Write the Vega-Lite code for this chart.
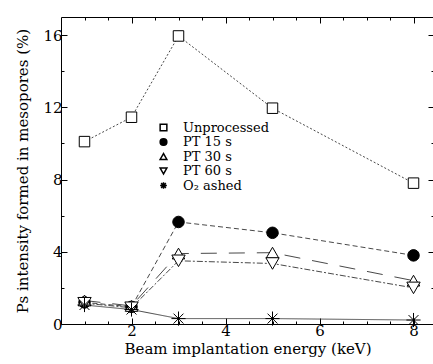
{
  "$schema": "https://vega.github.io/schema/vega-lite/v6.json",
  "width": 373,
  "height": 307,
  "autosize": "none",
  "padding": {"left": 61, "top": 17, "right": 0, "bottom": 40},
  "background": "white",
  "config": {
    "view": {"stroke": null},
    "font": "DejaVu Serif",
    "axis": {
      "labelFont": "DejaVu Serif", "labelFontSize": 15, "labelColor": "black",
      "titleFont": "DejaVu Serif", "titleFontSize": 15, "titleFontWeight": "normal", "titleColor": "black",
      "domainColor": "black", "tickColor": "black", "grid": false, "domainWidth": 1, "tickWidth": 1
    },
    "legend": {"labelFont": "DejaVu Serif", "labelFontSize": 13, "labelColor": "black"}
  },
  "data": {"values": [
    {"e": 1, "v": 10.1, "s": "Unprocessed"},
    {"e": 2, "v": 11.45, "s": "Unprocessed"},
    {"e": 3, "v": 15.95, "s": "Unprocessed"},
    {"e": 5, "v": 11.95, "s": "Unprocessed"},
    {"e": 8, "v": 7.8, "s": "Unprocessed"},
    {"e": 1, "v": 1.2, "s": "PT 15 s"},
    {"e": 2, "v": 0.95, "s": "PT 15 s"},
    {"e": 3, "v": 5.65, "s": "PT 15 s"},
    {"e": 5, "v": 5.05, "s": "PT 15 s"},
    {"e": 8, "v": 3.8, "s": "PT 15 s"},
    {"e": 1, "v": 1.3, "s": "PT 30 s"},
    {"e": 2, "v": 1.0, "s": "PT 30 s"},
    {"e": 3, "v": 3.9, "s": "PT 30 s"},
    {"e": 5, "v": 3.95, "s": "PT 30 s"},
    {"e": 8, "v": 2.4, "s": "PT 30 s"},
    {"e": 1, "v": 1.15, "s": "PT 60 s"},
    {"e": 2, "v": 0.9, "s": "PT 60 s"},
    {"e": 3, "v": 3.5, "s": "PT 60 s"},
    {"e": 5, "v": 3.35, "s": "PT 60 s"},
    {"e": 8, "v": 2.0, "s": "PT 60 s"},
    {"e": 1, "v": 1.05, "s": "O₂ ashed"},
    {"e": 2, "v": 0.8, "s": "O₂ ashed"},
    {"e": 3, "v": 0.3, "s": "O₂ ashed"},
    {"e": 5, "v": 0.3, "s": "O₂ ashed"},
    {"e": 8, "v": 0.22, "s": "O₂ ashed"}
  ]},
  "layer": [
    {
      "mark": {"type": "line", "stroke": "#333333", "strokeWidth": 0.9},
      "encoding": {
        "x": {"field": "e", "type": "quantitative", "scale": {"domain": [0.5, 8.436], "nice": false, "zero": false},
              "axis": {"orient": "bottom", "values": [2, 4, 6, 8], "tickSize": -6, "labelPadding": 5, "title": "Beam implantation energy (keV)", "titlePadding": 3, "format": "d",
                       "labelFont": "DejaVu Serif", "titleFont": "DejaVu Serif", "labelFontSize": 15, "titleFontSize": 15}},
        "y": {"field": "v", "type": "quantitative", "scale": {"domain": [0, 17], "nice": false, "zero": true},
              "axis": {"orient": "left", "values": [0, 4, 8, 12, 16], "tickSize": -6, "labelPadding": 5, "title": "Ps intensity formed in mesopores (%)", "titlePadding": 12, "format": "d",
                       "labelFont": "DejaVu Serif", "titleFont": "DejaVu Serif", "labelFontSize": 15, "titleFontSize": 15}},
        "strokeDash": {"field": "s", "type": "nominal", "legend": null,
          "scale": {"domain": ["O₂ ashed", "PT 60 s", "PT 30 s", "PT 15 s", "Unprocessed"],
                    "range": [[1, 0], [6, 2, 2, 2], [16, 12], [5, 3], [2, 2]]}}
      }
    },
    {
      "mark": {"type": "point", "filled": true, "stroke": "black", "strokeWidth": 1, "opacity": 1},
      "encoding": {
        "x": {"field": "e", "type": "quantitative", "axis": {"orient": "bottom", "values": [1, 1.5, 2.5, 3, 3.5, 4.5, 5, 5.5, 6.5, 7, 7.5], "tickSize": -3, "labels": false, "domain": false, "title": null}},
        "y": {"field": "v", "type": "quantitative", "axis": {"orient": "left", "values": [2, 6, 10, 14], "tickSize": -3, "labels": false, "domain": false, "title": null}},
        "shape": {"field": "s", "type": "nominal",
          "scale": {"domain": ["Unprocessed", "PT 15 s", "PT 30 s", "PT 60 s", "O₂ ashed"],
                    "range": ["square", "circle", "triangle-up", "triangle-down", "M0,-1L0,1M-1,0L1,0M-0.7,-0.7L0.7,0.7M-0.7,0.7L0.7,-0.7"]},
          "legend": {"title": null, "orient": "none", "legendX": 96, "legendY": 104, "symbolSize": 45, "labelOffset": 13, "rowPadding": 0.5, "padding": 0,
                     "labelFont": "DejaVu Serif", "labelFontSize": 13,
                     "encode": {"symbols": {"update": {"stroke": {"value": "black"}, "strokeWidth": {"value": 1}}}}}},
        "fill": {"field": "s", "type": "nominal",
          "scale": {"domain": ["Unprocessed", "PT 15 s", "PT 30 s", "PT 60 s", "O₂ ashed"],
                    "range": ["white", "black", "white", "white", "white"]},
          "legend": {"title": null, "orient": "none", "legendX": 96, "legendY": 104, "symbolSize": 45, "labelOffset": 13, "rowPadding": 0.5, "padding": 0,
                     "labelFont": "DejaVu Serif", "labelFontSize": 13,
                     "encode": {"symbols": {"update": {"stroke": {"value": "black"}, "strokeWidth": {"value": 1}}}}}},
        "size": {"field": "s", "type": "nominal", "legend": null,
          "scale": {"domain": ["O₂ ashed", "PT 60 s", "PT 30 s", "PT 15 s", "Unprocessed"],
                    "range": [200, 110, 110, 64, 81]}}
      }
    },
    {
      "mark": {"type": "point", "opacity": 0},
      "encoding": {
        "x": {"field": "e", "type": "quantitative", "axis": {"orient": "top", "values": [2, 4, 6, 8], "tickSize": -6, "labels": false, "title": null}},
        "y": {"field": "v", "type": "quantitative", "axis": {"orient": "right", "values": [0, 4, 8, 12, 16], "tickSize": -6, "labels": false, "title": null}}
      }
    },
    {
      "mark": {"type": "point", "opacity": 0},
      "encoding": {
        "x": {"field": "e", "type": "quantitative", "axis": {"orient": "top", "values": [1, 1.5, 2.5, 3, 3.5, 4.5, 5, 5.5, 6.5, 7, 7.5], "tickSize": -3, "labels": false, "domain": false, "title": null}},
        "y": {"field": "v", "type": "quantitative", "axis": {"orient": "right", "values": [2, 6, 10, 14], "tickSize": -3, "labels": false, "domain": false, "title": null}}
      }
    }
  ],
  "resolve": {"axis": {"x": "independent", "y": "independent"}}
}
